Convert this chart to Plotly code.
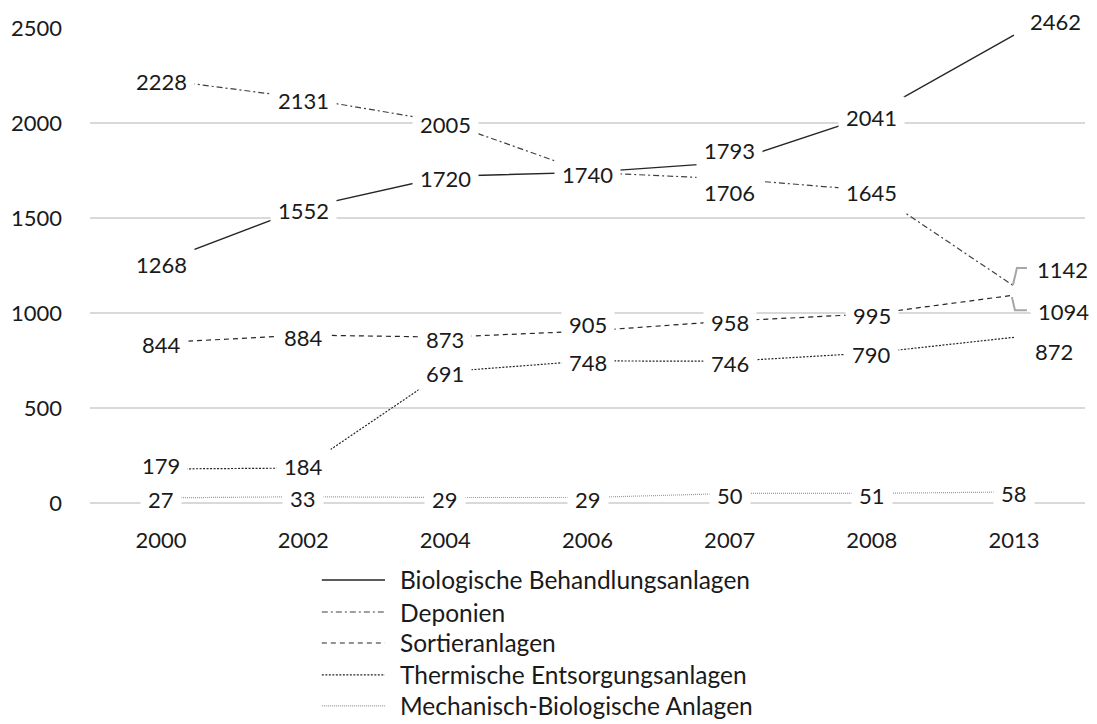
import plotly.graph_objects as go

# Anlagen nach Art, Anzahl je Erhebungsjahr
years = ["2000", "2002", "2004", "2006", "2007", "2008", "2013"]
biologische = [1268, 1552, 1720, 1740, 1793, 2041, 2462]
deponien = [2228, 2131, 2005, 1740, 1706, 1645, 1142]
sortier = [844, 884, 873, 905, 958, 995, 1094]
thermische = [179, 184, 691, 748, 746, 790, 872]
mechanisch = [27, 33, 29, 29, 50, 51, 58]

names = [
    "Biologische Behandlungsanlagen",
    "Deponien",
    "Sortieranlagen",
    "Thermische Entsorgungsanlagen",
    "Mechanisch-Biologische Anlagen",
]
values = [biologische, deponien, sortier, thermische, mechanisch]

# line styles per series: (colour, width, dash)
styles = [
    ("#262626", 1.4, "solid"),
    ("#404040", 1.2, "6px,3px,2px,3px"),
    ("#262626", 1.2, "5px,4px"),
    ("#262626", 1.2, "2px,1.5px"),
    ("#9a9a9a", 1.2, "1px,1px"),
]

# label nudges in pixels (series index, point index) -> (xshift, yshift)
label_shift = {
    (0, 4): (0, 14),
    (0, 6): (42, 16),
    (1, 4): (0, -12),
    (1, 6): (49, 19),
    (2, 3): (0, 9),
    (2, 6): (50, -14),
    (3, 0): (0, 5),
    (3, 1): (0, 4),
    (3, 6): (40, -12),
}
BASE_DY = -2

FONT = "Lato"
TXT = "#1a1a1a"
FS = 22
LEG_FS = 24.5

fig = go.Figure()
for name, vals, (col, w, dash) in zip(names, values, styles):
    fig.add_trace(go.Scatter(
        x=years, y=vals, name=name, mode="lines",
        line=dict(color=col, width=w, dash=dash),
        showlegend=False, hoverinfo="skip",
    ))

annotations = []
for si, vals in enumerate(values):
    for pi, v in enumerate(vals):
        if si == 1 and pi == 3:
            continue  # same value and place as the Biologische label
        dx, dy = label_shift.get((si, pi), (0, 0))
        annotations.append(dict(
            x=pi, y=v, xref="x", yref="y", text=str(v),
            showarrow=False, xshift=dx, yshift=dy + BASE_DY,
            font=dict(family=FONT, size=FS, color=TXT),
            bgcolor="white", borderpad=7,
            xanchor="center", yanchor="middle",
        ))

shapes = []
# leader lines for the two moved labels at 2013
last = len(years) - 1
for vals, path in ((deponien, "M -1,1 L 3,18 L 13,18"),
                   (sortier, "M -2,-2 L 1,-15 L 13,-15")):
    shapes.append(dict(
        type="path", xref="x", yref="y",
        xsizemode="pixel", ysizemode="pixel",
        xanchor=last, yanchor=vals[-1], path=path,
        line=dict(color="#a6a6a6", width=2),
    ))

# legend below the plot
leg_x0, leg_x1, leg_tx = 0.233, 0.2965, 0.3095
leg_rows = [-0.162, -0.2295, -0.2947, -0.362, -0.427]
for name, (col, w, dash), ry in zip(names, styles, leg_rows):
    shapes.append(dict(
        type="line", xref="paper", yref="paper",
        x0=leg_x0, x1=leg_x1, y0=ry, y1=ry,
        line=dict(color=col, width=w, dash=dash),
    ))
    annotations.append(dict(
        x=leg_tx, y=ry, xref="paper", yref="paper", text=name,
        showarrow=False, xanchor="left", yanchor="middle",
        font=dict(family=FONT, size=LEG_FS, color=TXT),
    ))

fig.update_layout(
    width=1097, height=724,
    margin=dict(l=90, r=12, t=28, b=221),
    paper_bgcolor="white", plot_bgcolor="white",
    font=dict(family=FONT, size=FS, color=TXT),
    xaxis=dict(
        type="category", categoryorder="array", categoryarray=years,
        range=[-0.5, 6.5], showgrid=False, showline=False,
        ticks="", ticklabelstandoff=22,
        tickfont=dict(family=FONT, size=FS, color=TXT),
    ),
    yaxis=dict(
        range=[0, 2500], tickvals=[0, 500, 1000, 1500, 2000, 2500],
        showgrid=True, gridcolor="#d9d9d9", gridwidth=2,
        zeroline=True, zerolinecolor="#d9d9d9", zerolinewidth=2,
        showline=False, ticks="", ticklabelstandoff=27,
        tickfont=dict(family=FONT, size=FS, color=TXT),
    ),
    annotations=annotations,
    shapes=shapes,
)

fig.write_html("out.html")
